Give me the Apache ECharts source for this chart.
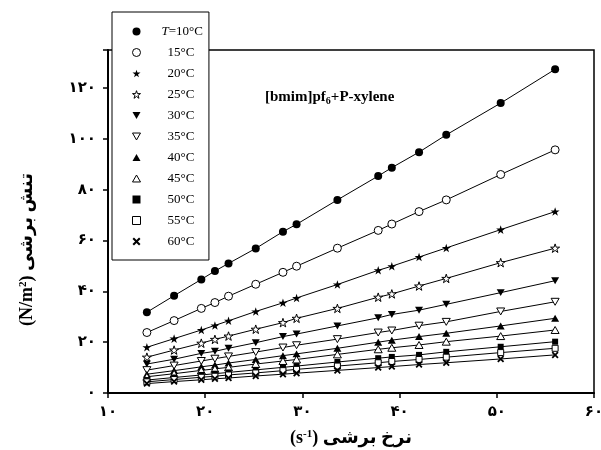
<!DOCTYPE html>
<html><head><meta charset="utf-8">
<script src="https://cdn.jsdelivr.net/npm/echarts@6/dist/echarts.min.js"></script>
<style>html,body{margin:0;padding:0;background:#fff}#c{width:601px;height:450px}</style>
</head><body><div id="c"></div>
<script>
const shearRate = [14, 16.8, 19.6, 21, 22.4, 25.2, 28, 29.4, 33.6, 37.8, 39.2, 42, 44.8, 50.4, 56];
const seriesNames = ['T=10°C', '15°C', '20°C', '25°C', '30°C', '35°C', '40°C', '45°C', '50°C', '55°C', '60°C'];
const stress10 = [31.8, 38.3, 44.7, 48.0, 51.0, 56.9, 63.5, 66.4, 76.0, 85.4, 88.7, 94.8, 101.6, 114.1, 127.4];
const stress15 = [23.8, 28.5, 33.3, 35.6, 38.1, 42.8, 47.5, 49.9, 57.0, 64.0, 66.5, 71.4, 76.0, 86.0, 95.7];
const stress20 = [18.0, 21.4, 24.8, 26.6, 28.4, 32.1, 35.5, 37.4, 42.7, 48.3, 49.9, 53.5, 57.1, 64.3, 71.4];
const stress25 = [14.1, 16.9, 19.6, 21.1, 22.4, 25.1, 27.7, 29.4, 33.3, 37.7, 39.0, 42.1, 45.1, 51.3, 57.0];
const stress30 = [11.4, 13.3, 15.6, 16.4, 17.6, 19.8, 22.2, 23.2, 26.4, 29.6, 30.9, 32.6, 34.9, 39.5, 44.2];
const stress35 = [9.0, 10.8, 12.6, 13.5, 14.4, 16.1, 17.9, 18.8, 21.2, 23.8, 24.6, 26.5, 28.0, 32.1, 35.9];
const stress40 = [7.4, 8.8, 10.3, 11.0, 11.8, 13.2, 14.7, 15.4, 17.6, 20.0, 20.8, 22.2, 23.5, 26.4, 29.4];
const stress45 = [6.4, 7.6, 8.9, 9.5, 10.1, 11.4, 12.6, 13.2, 15.2, 17.2, 17.8, 18.9, 20.2, 22.4, 24.8];
const stress50 = [5.1, 6.1, 7.1, 7.6, 8.1, 9.1, 10.1, 10.6, 12.2, 13.7, 14.2, 15.0, 16.2, 18.2, 20.2];
const stress55 = [4.4, 5.3, 6.2, 6.6, 7.1, 7.9, 8.8, 9.3, 10.6, 11.9, 12.4, 13.2, 14.1, 15.9, 17.6];
const stress60 = [3.7, 4.5, 5.2, 5.6, 5.9, 6.7, 7.4, 7.8, 8.9, 10.0, 10.4, 11.2, 11.9, 13.4, 15.0];
const xTicks = [10, 20, 30, 40, 50, 60];
const yTicks = [0, 20, 40, 60, 80, 100, 120];

const allStress = [stress10, stress15, stress20, stress25, stress30, stress35, stress40, stress45, stress50, stress55, stress60];

const STAR = 'path://M100,0 L122.45,69.1 L195.1,69.1 L136.3,111.8 L158.8,180.9 L100,138.2 L41.2,180.9 L63.7,111.8 L4.9,69.1 L77.55,69.1 Z';
const TDOWN = 'path://M0,0 L100,0 L50,87 Z';
const TUP = 'path://M50,0 L100,87 L0,87 Z';
const XMARK = 'path://M0,18 L18,0 L50,32 L82,0 L100,18 L68,50 L100,82 L82,100 L50,68 L18,100 L0,82 L32,50 Z';
const markers = [
  ['circle', true, 8], ['circle', false, 8],
  [STAR, true, 9], [STAR, false, 9],
  [TDOWN, true, 8], [TDOWN, false, 8],
  [TUP, true, 8], [TUP, false, 8],
  ['rect', true, 6], ['rect', false, 6],
  [XMARK, true, 7]
];

function fa(v) { return String(v).replace(/\d/g, d => '۰۱۲۳۴۵۶۷۸۹'[d]); }
function mstyle(filled) {
  return { color: filled ? '#000' : '#fff', borderColor: '#000', borderWidth: filled ? 0 : 1 };
}

const series = seriesNames.map((name, i) => {
  const [sym, filled, size] = markers[i];
  return {
    name: name,
    type: 'line',
    data: shearRate.map((x, j) => [x, allStress[i][j]]),
    symbol: sym,
    symbolSize: size,
    symbolKeepAspect: true,
    showAllSymbol: true,
    lineStyle: { color: '#000', width: 1 },
    itemStyle: mstyle(filled),
    emphasis: { disabled: true },
    z: 3
  };
});

const chart = echarts.init(document.getElementById('c'), null, { renderer: 'canvas' });
chart.setOption({
  animation: false,
  backgroundColor: '#fff',
  grid: { left: 108, right: 7, top: 50, bottom: 57, show: true, borderColor: '#000', borderWidth: 1.5, backgroundColor: 'transparent', outerBoundsMode: 'none' },
  title: {
    text: '[bmim]pf{sub|6}+P-xylene',
    left: 260, top: 84,
    textStyle: {
      fontFamily: 'Liberation Serif', fontWeight: 'bold', fontSize: 15, color: '#000',
      rich: { sub: { fontFamily: 'Liberation Serif', fontWeight: 'bold', fontSize: 10, verticalAlign: 'bottom', padding: [7, 0, 0, 0] } }
    }
  },
  legend: {
    orient: 'vertical', left: 112, top: 12,
    padding: [13, 6, 12, 20],
    itemWidth: 8, itemHeight: 8, itemGap: 8,
    backgroundColor: '#fff', borderColor: '#000', borderWidth: 1, borderRadius: 0,
    z: 10,
    selectedMode: false,
    data: seriesNames.map((n, i) => ({ name: n, icon: markers[i][0], itemStyle: mstyle(markers[i][1]) })),
    formatter: function (name) {
      if (name.indexOf('T=') === 0) return '{ti|T}{n0|' + name.slice(1) + '}';
      return '{n|' + name + '}';
    },
    textStyle: {
      fontFamily: 'Liberation Serif', fontSize: 13, color: '#000',
      rich: {
        ti: { fontFamily: 'Liberation Serif', fontStyle: 'italic', fontSize: 13, padding: [0, 0, 0, 16] },
        n0: { fontFamily: 'Liberation Serif', fontSize: 13 },
        n: { fontFamily: 'Liberation Serif', fontSize: 13, padding: [0, 0, 0, 22] }
      }
    }
  },
  xAxis: {
    type: 'value', min: 10, max: 60, interval: 10,
    name: '(s{sup|-1}) نرخ برشی',
    nameLocation: 'middle', nameGap: 36,
    nameTextStyle: {
      fontFamily: 'Liberation Serif, DejaVu Sans', fontWeight: 'bold', fontSize: 18, color: '#000',
      rich: { sup: { fontFamily: 'Liberation Serif', fontWeight: 'bold', fontSize: 11, verticalAlign: 'top', padding: [0, 0, 6, 0] } }
    },
    axisLine: { show: true, lineStyle: { color: '#000', width: 2 } },
    axisTick: { show: true, inside: false, length: 5, lineStyle: { color: '#000', width: 1.5 } },
    axisLabel: {
      margin: 12, color: '#000', fontFamily: 'DejaVu Sans', fontWeight: 'bold', fontSize: 15,
      formatter: v => xTicks.indexOf(v) >= 0 ? fa(v) : ''
    },
    splitLine: { show: false }
  },
  yAxis: {
    type: 'value', min: 0, max: 135, interval: 20,
    name: '(N/m{sup|2}) تنش برشی',
    nameLocation: 'middle', nameGap: 72, nameRotate: 90,
    nameTextStyle: {
      fontFamily: 'Liberation Serif, DejaVu Sans', fontWeight: 'bold', fontSize: 18, color: '#000',
      padding: [0, 56, 0, 0],
      rich: { sup: { fontFamily: 'Liberation Serif', fontWeight: 'bold', fontSize: 11, verticalAlign: 'top', padding: [0, 0, 6, 0] } }
    },
    axisLine: { show: true, lineStyle: { color: '#000', width: 2 } },
    axisTick: { show: true, inside: false, length: 5, lineStyle: { color: '#000', width: 1.5 } },
    axisLabel: {
      margin: 12, color: '#000', fontFamily: 'DejaVu Sans', fontWeight: 'bold', fontSize: 15,
      formatter: v => yTicks.indexOf(v) >= 0 ? fa(v) : ''
    },
    splitLine: { show: false }
  },
  series: series
});
</script>
</body></html>
